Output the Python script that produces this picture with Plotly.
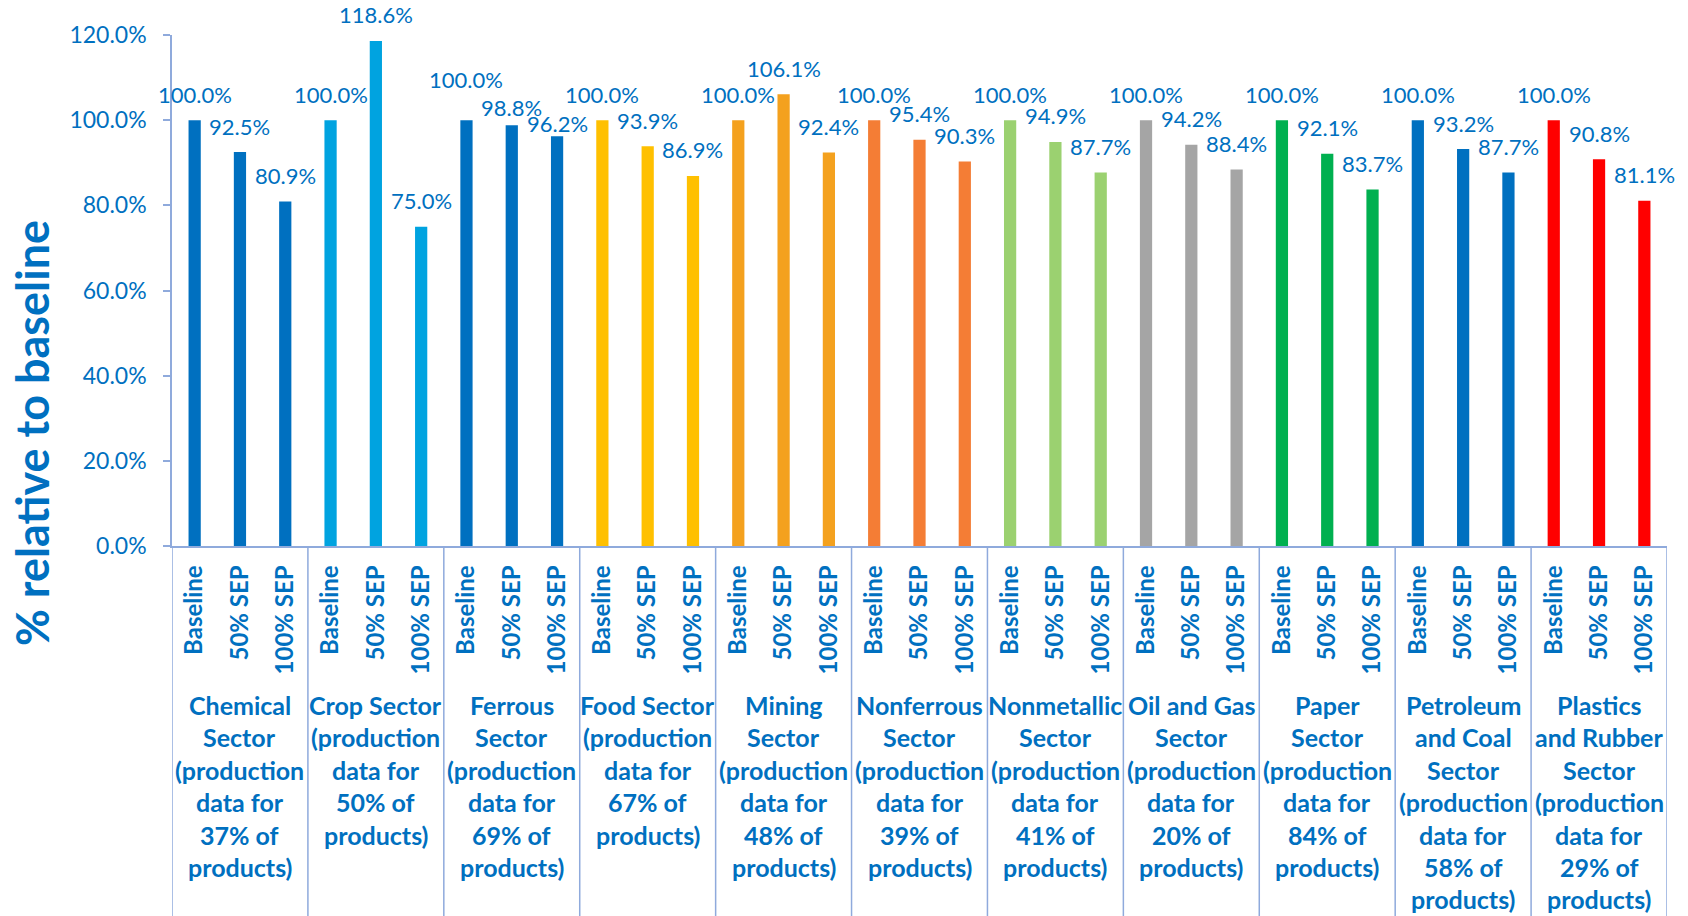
import plotly.graph_objects as go

# ---------------- data ----------------
sectors = [
    "Chemical\nSector\n(production\ndata for\n37% of\nproducts)",
    "Crop Sector\n(production\ndata for\n50% of\nproducts)",
    "Ferrous\nSector\n(production\ndata for\n69% of\nproducts)",
    "Food Sector\n(production\ndata for\n67% of\nproducts)",
    "Mining\nSector\n(production\ndata for\n48% of\nproducts)",
    "Nonferrous\nSector\n(production\ndata for\n39% of\nproducts)",
    "Nonmetallic\nSector\n(production\ndata for\n41% of\nproducts)",
    "Oil and Gas\nSector\n(production\ndata for\n20% of\nproducts)",
    "Paper\nSector\n(production\ndata for\n84% of\nproducts)",
    "Petroleum\nand Coal\nSector\n(production\ndata for\n58% of\nproducts)",
    "Plastics\nand Rubber\nSector\n(production\ndata for\n29% of\nproducts)",
]
scenarios = ["Baseline", "50% SEP", "100% SEP"]

baseline = [100.0, 100.0, 100.0, 100.0, 100.0, 100.0, 100.0, 100.0, 100.0, 100.0, 100.0]
sep_50 = [92.5, 118.6, 98.8, 93.9, 106.1, 95.4, 94.9, 94.2, 92.1, 93.2, 90.8]
sep_100 = [80.9, 75.0, 96.2, 86.9, 92.4, 90.3, 87.7, 88.4, 83.7, 87.7, 81.1]

y_ticks = [0, 20, 40, 60, 80, 100, 120]

# ---------------- styles ----------------
sector_colors = ["#0070C0", "#00A3E0", "#0070C0", "#FFC000", "#F4A11E", "#F47D35",
                 "#9BD170", "#A5A5A5", "#00B050", "#0070C0", "#FF0000"]
text_color = "#0070C0"
axis_color = "#8FAADC"
font_family = "Lato"
label_lift_default = 26
# label lifts (px) adjusted where the original staggered overlapping labels
label_lift_override = {(2, 0): 41, (2, 1): 18, (2, 2): 13}

# ---------------- build ----------------
n_sc = len(scenarios)
xs, ys, cols, inner = [], [], [], []
series = [baseline, sep_50, sep_100]
for g in range(len(sectors)):
    for s in range(n_sc):
        xs.append(g * n_sc + s)
        ys.append(series[s][g])
        cols.append(sector_colors[g])
        inner.append(scenarios[s])

fig = go.Figure()
fig.add_trace(go.Bar(
    x=xs, y=ys, marker=dict(color=cols, line=dict(width=0)),
    width=0.27, showlegend=False, hoverinfo="x+y",
))

annotations = []
# data labels
for g in range(len(sectors)):
    for s in range(n_sc):
        v = series[s][g]
        lift = label_lift_override.get((g, s), label_lift_default)
        annotations.append(dict(
            x=g * n_sc + s, y=v, xref="x", yref="y", text=f"{v:.1f}%",
            showarrow=False, yanchor="middle", xanchor="center", yshift=lift,
            font=dict(family=font_family, size=22, color=text_color),
        ))

# group labels
line_gap = 32.4
for g, lab in enumerate(sectors):
    for i, line in enumerate(lab.split("\n")):
        annotations.append(dict(
            x=g * n_sc + (n_sc - 1) / 2, y=0, xref="x", yref="paper",
            text=line, showarrow=False, xanchor="center", yanchor="middle",
            yshift=-(159 + line_gap * i),
            font=dict(family=font_family, size=25, color=text_color, weight="bold"),
        ))

# y-axis title
annotations.append(dict(
    x=0, y=0.221, xref="paper", yref="paper", xshift=-140,
    text="% relative to baseline", textangle=-90, showarrow=False,
    xanchor="center", yanchor="middle",
    font=dict(family=font_family, size=45, color=text_color, weight="bold"),
))

# group dividers
shapes = []
for g in range(len(sectors) + 1):
    shapes.append(dict(
        type="line", xref="x", yref="paper",
        x0=g * n_sc - 0.5, x1=g * n_sc - 0.5, y0=0, y1=-0.75,
        line=dict(color=axis_color, width=1.5),
    ))

# page body has an 8px margin, so the figure is sized to fit the window
fig.update_layout(
    width=1680, height=908,
    margin=dict(l=164, r=21, t=27, b=370, autoexpand=False),
    paper_bgcolor="white", plot_bgcolor="white",
    font=dict(family=font_family, color=text_color),
    bargap=0.73,
    annotations=annotations,
    shapes=shapes,
    xaxis=dict(
        range=[-0.5, len(xs) - 0.5], automargin=False,
        tickmode="array", tickvals=xs, ticktext=inner,
        tickangle=-90, ticks="", ticklabelstandoff=8,
        tickfont=dict(family=font_family, size=24, color=text_color, weight="bold"),
        showline=True, linecolor=axis_color, linewidth=1.5,
        showgrid=False, zeroline=False,
    ),
    yaxis=dict(
        range=[0, 120], automargin=False,
        tickmode="array", tickvals=y_ticks,
        ticktext=[f"{v:.1f}%" for v in y_ticks],
        ticks="outside", ticklen=7, tickcolor=axis_color, tickwidth=1.5,
        ticklabelstandoff=12,
        tickfont=dict(family=font_family, size=23, color=text_color),
        showline=True, linecolor=axis_color, linewidth=1.5,
        showgrid=False, zeroline=False,
    ),
)

fig.write_html("out.html")
